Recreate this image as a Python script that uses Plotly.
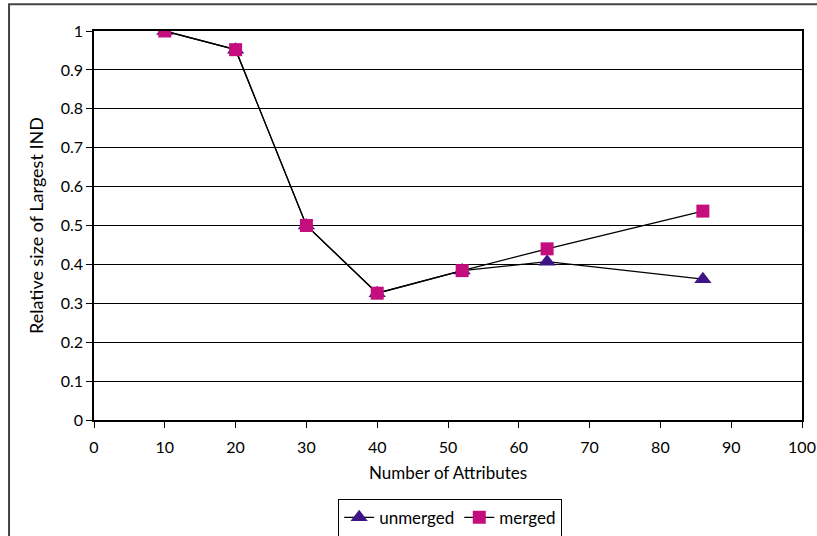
import plotly.graph_objects as go

# Attribute counts and relative size of the largest IND
attributes = [10, 20, 30, 40, 52, 64, 86]
unmerged = [1.0, 0.952, 0.5, 0.326, 0.384, 0.407, 0.362]
merged = [1.0, 0.952, 0.5, 0.326, 0.384, 0.44, 0.537]

x_ticks = list(range(0, 101, 10))
y_ticks = [0, 0.1, 0.2, 0.3, 0.4, 0.5, 0.6, 0.7, 0.8, 0.9, 1]
y_tick_text = ["0", "0.1", "0.2", "0.3", "0.4", "0.5", "0.6", "0.7", "0.8", "0.9", "1"]

FONT = "Lato, DejaVu Sans, sans-serif"

fig = go.Figure()
fig.add_trace(go.Scatter(
    x=attributes, y=unmerged, name="unmerged", mode="lines+markers",
    line=dict(color="black", width=1.3),
    marker=dict(symbol="triangle-up", size=15, color="#3D1585",
                line=dict(width=0)),
))
fig.add_trace(go.Scatter(
    x=attributes, y=merged, name="merged", mode="lines+markers",
    line=dict(color="black", width=1.3),
    marker=dict(symbol="square", size=13, color="#C40E7E",
                line=dict(width=0)),
))

# outer chart frame
fig.add_shape(type="rect", xref="paper", yref="paper",
              x0=-0.12, x1=1.06, y0=-0.35, y1=1.069,
              line=dict(color="#444444", width=2), layer="below")

fig.update_layout(
    width=817, height=536,
    margin=dict(l=94, r=15, t=31, b=116, autoexpand=False),
    paper_bgcolor="white", plot_bgcolor="white",
    font=dict(family=FONT, size=16, color="black"),
    showlegend=True,
    legend=dict(orientation="h", x=0.551, xref="container", xanchor="center",
                y=0.034, yref="container", yanchor="middle",
                bordercolor="black", borderwidth=1,
                font=dict(size=17), tracegroupgap=0),
    xaxis=dict(range=[0, 100], tickvals=x_ticks, showgrid=False,
               showline=True, linecolor="black", linewidth=1.5,
               mirror=True, ticks="outside", ticklen=6, tickcolor="black",
               ticklabelstandoff=6, zeroline=False,
               title=dict(text="Number of Attributes", standoff=12,
                          font=dict(size=17))),
    yaxis=dict(range=[0, 1], tickvals=y_ticks, ticktext=y_tick_text,
               showgrid=True, gridcolor="black", gridwidth=1.2,
               showline=True, linecolor="black", linewidth=1.5,
               mirror=True, ticks="outside", ticklen=6, tickcolor="black",
               zeroline=False,
               title=dict(text="Relative size of Largest IND", standoff=12,
                          font=dict(size=18))),
)

fig.write_html("out.html")
